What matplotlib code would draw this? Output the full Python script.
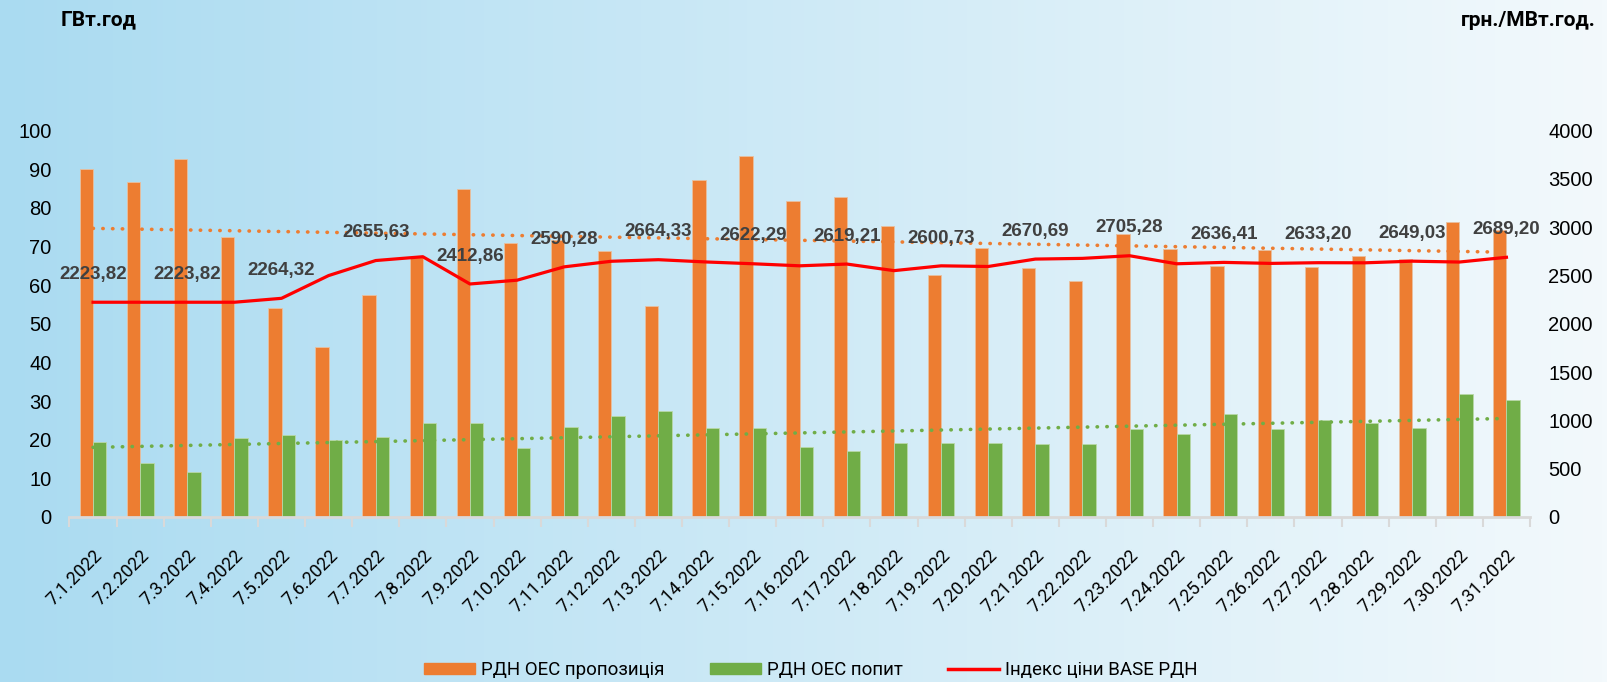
import numpy as np
import matplotlib.pyplot as plt
from matplotlib.patches import Patch
from matplotlib.lines import Line2D

# ---- data ----
dates = ["7.1.2022", "7.2.2022", "7.3.2022", "7.4.2022", "7.5.2022", "7.6.2022",
         "7.7.2022", "7.8.2022", "7.9.2022", "7.10.2022", "7.11.2022", "7.12.2022",
         "7.13.2022", "7.14.2022", "7.15.2022", "7.16.2022", "7.17.2022", "7.18.2022",
         "7.19.2022", "7.20.2022", "7.21.2022", "7.22.2022", "7.23.2022", "7.24.2022",
         "7.25.2022", "7.26.2022", "7.27.2022", "7.28.2022", "7.29.2022", "7.30.2022",
         "7.31.2022"]

# РДН ОЕС пропозиція, ГВт.год
supply = [90.1, 86.6, 92.8, 72.4, 54.2, 44.1, 57.4, 67.2, 84.8, 70.8, 71.8, 68.9,
          54.6, 87.3, 93.4, 81.9, 82.8, 75.3, 62.6, 69.7, 64.4, 61.1, 73.2, 69.5,
          65.0, 69.0, 64.7, 67.5, 66.7, 76.4, 74.3]

# РДН ОЕС попит, ГВт.год
demand = [19.3, 14.0, 11.6, 20.4, 21.1, 19.9, 20.7, 24.3, 24.3, 17.8, 23.4, 26.1,
          27.4, 23.0, 23.1, 18.0, 17.1, 19.2, 19.1, 19.2, 18.8, 19.0, 22.8, 21.5,
          26.6, 22.7, 25.0, 24.4, 23.0, 31.8, 30.2]

# Індекс ціни BASE РДН, грн./МВт.год.
price = [2223.82, 2223.82, 2223.82, 2223.82, 2264.32, 2500, 2655.63, 2695, 2412.86,
         2452, 2590.28, 2648, 2664.33, 2641, 2622.29, 2601, 2619.21, 2551, 2600.73,
         2594, 2670.69, 2678, 2705.28, 2622, 2636.41, 2626, 2633.20, 2632, 2649.03,
         2640, 2689.20]

ORANGE = "#ED7D31"
GREEN = "#70AD47"
RED = "#FF0000"
CYR = ["Roboto", "DejaVu Sans"]

W, H = 1608, 682
fig = plt.figure(figsize=(W / 100, H / 100), dpi=100)

# background gradient
bg = fig.add_axes([0, 0, 1, 1], zorder=-10)
grad = np.linspace(0, 1, 256)
c0 = np.array([170, 219, 241]) / 255
c1 = np.array([243, 249, 252]) / 255
img = c0[None, :] * (1 - grad[:, None]) + c1[None, :] * grad[:, None]
bg.imshow(img[None, :, :], aspect="auto", extent=[0, 1, 0, 1])
bg.axis("off")

# main axes
x0, x1, y0, y1 = 69.5, 1530, 517, 130.7
ax = fig.add_axes([x0 / W, 1 - y0 / H, (x1 - x0) / W, (y0 - y1) / H])
ax.patch.set_alpha(0)
x = np.arange(len(dates))
bw = 0.283

ax.bar(x - bw / 2, supply, bw, color=ORANGE, edgecolor="#e8c0a0", linewidth=0.6, zorder=2)
ax.bar(x + bw / 2, demand, bw, color=GREEN, edgecolor="#b8d8a8", linewidth=0.6, zorder=2)

# linear trend lines
ps = np.polyfit(x, supply, 1)
pd_ = np.polyfit(x, demand, 1)
ax.plot(x, np.polyval(ps, x), color=ORANGE, lw=2.6, ls=(0, (0.1, 2.6)),
        dash_capstyle="round", zorder=3)
ax.plot(x, np.polyval(pd_, x), color=GREEN, lw=2.6, ls=(0, (0.1, 2.6)),
        dash_capstyle="round", zorder=3)

ax.set_xlim(-0.5, len(dates) - 0.5)
ax.set_ylim(0, 100)
ax.set_yticks(np.arange(0, 101, 10))
ax.set_xticks(x)
ax.set_xticklabels(dates, rotation=45, ha="right", rotation_mode="anchor",
                   fontsize=13, family=CYR)
ax.set_xticks(np.arange(-0.5, len(dates), 1), minor=True)
ax.tick_params(axis="x", which="major", length=0, pad=21)
ax.tick_params(axis="x", which="minor", length=7, width=1.5, color="#d9d9d9")
ax.tick_params(axis="y", length=0, pad=13, labelsize=14.5)
for s in ["top", "left", "right"]:
    ax.spines[s].set_visible(False)
ax.spines["bottom"].set_color("#d9d9d9")
ax.spines["bottom"].set_linewidth(2)
for t in ax.get_yticklabels():
    t.set_family("Liberation Sans")

# price on secondary axis
ax2 = ax.twinx()
ax2.patch.set_alpha(0)
ax2.plot(x, price, color=RED, lw=2.3, zorder=4)
ax2.set_ylim(0, 4000)
ax2.set_yticks(np.arange(0, 4001, 500))
ax2.tick_params(axis="y", length=0, pad=13, labelsize=14.5)
for s in ["top", "left", "right", "bottom"]:
    ax2.spines[s].set_visible(False)
for t in ax2.get_yticklabels():
    t.set_family("Liberation Sans")

for i in range(0, len(price), 2):
    ax2.annotate(f"{price[i]:.2f}".replace(".", ","), (x[i], price[i]),
                 xytext=(0, 20), textcoords="offset points", ha="center", va="center",
                 fontsize=13.5, fontweight="bold", color="#404040",
                 family="Liberation Sans", zorder=5)

# axis unit titles
fig.text(61 / W, 1 - 20 / H, "ГВт.год", fontsize=15, fontweight="bold",
         family=CYR, ha="left", va="center")
fig.text(1596 / W, 1 - 20 / H, "грн./МВт.год.", fontsize=15, fontweight="bold",
         family=CYR, ha="right", va="center")

# legend
handles = [Patch(color=ORANGE, label="РДН ОЕС пропозиція"),
           Patch(color=GREEN, label="РДН ОЕС попит"),
           Line2D([], [], color=RED, lw=2.5, label="Індекс ціни BASE РДН")]
fig.legend(handles=handles, loc="center", bbox_to_anchor=(811 / W, 1 - 670 / H),
           ncol=3, frameon=False, prop={"family": CYR, "size": 13.5},
           handlelength=2.7, handleheight=0.55, handletextpad=0.35, columnspacing=2.4)

fig.savefig("out.png", dpi=100)
